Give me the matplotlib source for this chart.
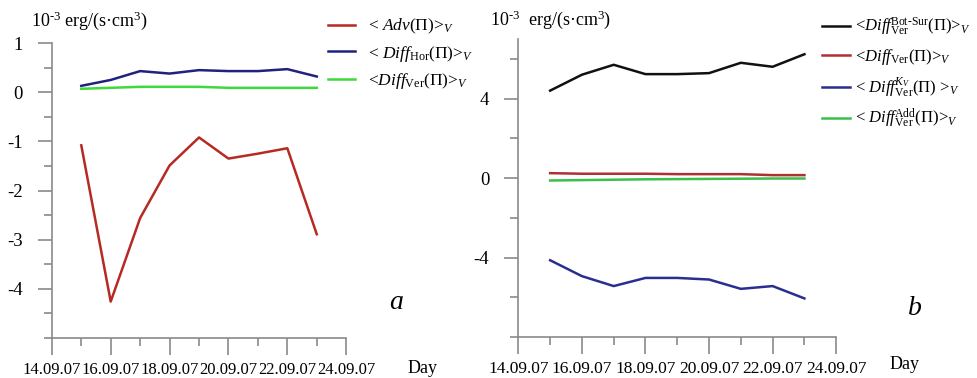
import matplotlib
matplotlib.use("Agg")
import matplotlib.pyplot as plt
import matplotlib.dates as mdates
import pandas as pd

plt.rcParams['font.family'] = ['Liberation Serif', 'DejaVu Serif']
plt.rcParams['mathtext.fontset'] = 'custom'
plt.rcParams['mathtext.rm'] = 'Liberation Serif'
plt.rcParams['mathtext.it'] = 'Liberation Serif:italic'
plt.rcParams['mathtext.bf'] = 'Liberation Serif:bold'
plt.rcParams['axes.unicode_minus'] = False

days = ["15.09.07", "16.09.07", "17.09.07", "18.09.07", "19.09.07",
        "20.09.07", "21.09.07", "22.09.07", "23.09.07"]

# Panel a
adv = [-1.08, -4.26, -2.56, -1.49, -0.92, -1.35, -1.25, -1.14, -2.89]
diff_hor = [0.13, 0.25, 0.43, 0.38, 0.45, 0.43, 0.43, 0.47, 0.32]
diff_ver_a = [0.07, 0.09, 0.11, 0.11, 0.11, 0.09, 0.09, 0.09, 0.09]

# Panel b
diff_botsur = [4.4, 5.2, 5.7, 5.23, 5.23, 5.28, 5.8, 5.6, 6.23]
diff_ver_b = [0.25, 0.22, 0.22, 0.22, 0.2, 0.2, 0.2, 0.15, 0.15]
diff_kv = [-4.13, -4.93, -5.43, -5.02, -5.02, -5.1, -5.57, -5.43, -6.05]
diff_add = [-0.12, -0.1, -0.08, -0.06, -0.05, -0.04, -0.03, -0.02, -0.02]

labels_a = [r"< $\it{Adv}$(Π)>$_{\it V}$",
            r"< $\it{Diff}$$_{\rm Hor}$(Π)>$_{\it V}$",
            r"<$\it{Diff}$$_{\rm Ver}$(Π)>$_{\it V}$"]
labels_b = [r"<$\it{Diff}$$^{\rm Bot\text{-}Sur}_{\rm Ver}$(Π)>$_{\it V}$",
            r"<$\it{Diff}$$_{\rm Ver}$(Π)>$_{\it V}$",
            r"< $\it{Diff}$$^{\it K_V}_{\rm Ver}$(Π) >$_{\it V}$",
            r"< $\it{Diff}$$^{\rm Add}_{\rm Ver}$(Π)>$_{\it V}$"]

x = pd.to_datetime(days, format="%d.%m.%y")

fig = plt.figure(figsize=(9.78, 3.78), dpi=100)
axa = fig.add_axes([0.053, 0.106, 0.301, 0.78])
axb = fig.add_axes([0.530, 0.108, 0.325, 0.789])

spine_c = "#8a8a8a"
for ax, xls in ((axa, 12), (axb, 12.5)):
    ax.spines['top'].set_visible(False)
    ax.spines['right'].set_visible(False)
    ax.spines['left'].set_color(spine_c)
    ax.spines['bottom'].set_color(spine_c)
    ax.spines['left'].set_linewidth(1.2)
    ax.spines['bottom'].set_linewidth(1.2)
    ax.set_xlim(pd.Timestamp("2007-09-14"), pd.Timestamp("2007-09-24"))
    ax.xaxis.set_major_locator(mdates.DayLocator(bymonthday=[14, 16, 18, 20, 22, 24]))
    ax.xaxis.set_minor_locator(mdates.DayLocator())
    ax.xaxis.set_major_formatter(mdates.DateFormatter("%d.%m.%y"))
    ax.tick_params(axis='x', which='major', length=12, width=1.2, color=spine_c,
                   labelsize=xls, pad=5)
    ax.tick_params(axis='x', which='minor', length=6, width=1.2, color=spine_c)
    ax.tick_params(axis='y', which='major', length=10, width=1.2, color=spine_c,
                   labelsize=13.5, pad=11)
    ax.tick_params(axis='y', which='minor', length=6, width=1.2, color=spine_c)
    ax.patch.set_alpha(0)

c_red = "#b52a23"
c_navy = "#1f237f"
c_lgreen = "#3fd93a"
lw = 1.8

la1, = axa.plot(x, adv, color=c_red, lw=lw)
la2, = axa.plot(x, diff_hor, color=c_navy, lw=lw)
la3, = axa.plot(x, diff_ver_a, color=c_lgreen, lw=lw)
axa.set_ylim(-5, 1)
axa.set_yticks([1, 0, -1, -2, -3, -4])
axa.set_yticks([0.5, -0.5, -1.5, -2.5, -3.5, -4.5, -5], minor=True)

lb1, = axb.plot(x, diff_botsur, color="#111111", lw=lw)
lb2, = axb.plot(x, diff_ver_b, color="#b03030", lw=lw)
lb3, = axb.plot(x, diff_kv, color="#2a2f8f", lw=lw)
lb4, = axb.plot(x, diff_add, color="#3cbf4a", lw=lw)
axb.set_ylim(-8, 7)
axb.set_yticks([4, 0, -4])
axb.set_yticks([6, 2, -2, -6, -8], minor=True)

fig.text(0.032, 0.945, r"10$^{\text{-3}}$ erg/(s·cm$^{3}$)", fontsize=13, ha='left', va='center')
fig.text(0.501, 0.948, r"10$^{\text{-3}}$  erg/(s·cm$^{3}$)", fontsize=13, ha='left', va='center')

fig.text(0.417, 0.025, "Day", fontsize=13, ha='left', va='center')
fig.text(0.910, 0.035, "Day", fontsize=13, ha='left', va='center')
fig.text(0.398, 0.2, "a", fontsize=20, style='italic', ha='left', va='center')
fig.text(0.928, 0.185, "b", fontsize=20, style='italic', ha='left', va='center')

axa.legend([la1, la2, la3], labels_a, loc='upper left',
           bbox_to_anchor=(0.335, 0.955), bbox_transform=fig.transFigure,
           frameon=False, fontsize=12.5, handlelength=1.6, handletextpad=0.7,
           labelspacing=0.42, borderaxespad=0, borderpad=0)
axb.legend([lb1, lb2, lb3, lb4], labels_b, loc='upper left',
           bbox_to_anchor=(0.840, 0.957), bbox_transform=fig.transFigure,
           frameon=False, fontsize=12, handlelength=1.7, handletextpad=0.3,
           labelspacing=0.5, borderaxespad=0, borderpad=0)

fig.savefig("out.png", dpi=100)
